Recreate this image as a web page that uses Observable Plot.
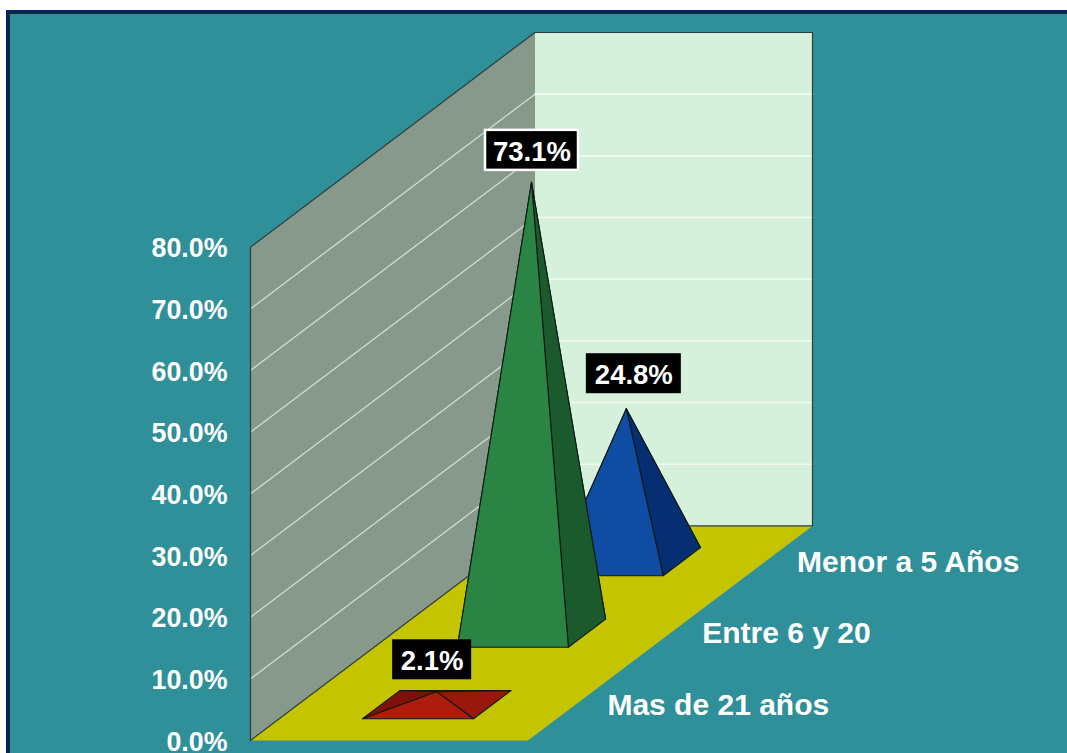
<!DOCTYPE html>
<html lang="es">
<head>
<meta charset="utf-8">
<script src="https://cdn.jsdelivr.net/npm/d3@7"></script>
<script src="https://cdn.jsdelivr.net/npm/@observablehq/plot@0.6"></script>
<style>
  html, body { margin: 0; padding: 0; background: #fff; overflow: hidden; width: 1067px; height: 753px; }
  #panel { position: absolute; left: 6px; top: 10px; right: -10px; bottom: -10px; background: #30909a;
           border: 2px solid #002366; box-shadow: inset 2px 2px 0 0 #0b2a38; }
  #chart { position: absolute; left: 0; top: 0; }
  #chart svg { display: block; }
</style>
</head>
<body>
<div id="panel"></div>
<div id="chart"></div>
<script>
// Data, front row to back row
const categories = ["Mas de 21 años", "Entre 6 y 20", "Menor a 5 Años"];
const values = [2.1, 73.1, 24.8];
const yTicks = [0, 10, 20, 30, 40, 50, 60, 70, 80];

// Colours per category
const frontColors = ["#ae1c0e", "#2a8544", "#0f4ca3"];
const sideColors = ["#9a170c", "#1a5a2c", "#062e72"];
const backColors = ["#7f1208", "#1a5a2c", "#062e72"];

// Oblique projection: depth d (0..1) shifts a point right and up in scale units
const depthX = 285 / 278, depthY = 34.8;
const px = (u, d) => u + depthX * d;
const py = (val, d) => val + depthY * d;
const yMax = 80;

// Each category occupies one third of the depth; pyramids fill 40% of the cell
const halfW = 0.2, halfD = 0.0655;
const center = i => (i + 0.5) / categories.length;

function poly(id, pts, fill, stroke) {
  return pts.map(([u, d, val]) => ({id, x: px(u, d), y: py(val, d), fill, stroke}));
}

// Chart box surfaces
const edge = "#2c3c3e";
const surfaces = [
  ...poly("floor", [[0,0,0],[1,0,0],[1,1,0],[0,1,0]], "#c4c400", "none"),
  ...poly("side", [[0,0,0],[0,1,0],[0,1,yMax],[0,0,yMax]], "#86998a", "none"),
  ...poly("back", [[0,1,0],[1,1,0],[1,1,yMax],[0,1,yMax]], "#d5f1db", "none")
];
const outlines = [
  {id: "a", pts: [[0,1,0],[0,0,0],[0,0,yMax],[0,1,yMax],[1,1,yMax],[1,1,0],[0,1,0]]}
].flatMap(o => o.pts.map(([u,d,val]) => ({id: o.id, x: px(u,d), y: py(val,d)})));

// Gridlines
const gridSide = yTicks.filter(t => t > 0 && t < yMax).flatMap(t => [
  {t, x: px(0,0), y: py(t,0)}, {t, x: px(0,1), y: py(t,1)}
]);
const gridBack = yTicks.filter(t => t > 0 && t < yMax).flatMap(t => [
  {t, x: px(0,1), y: py(t,1)}, {t, x: px(1,1), y: py(t,1)}
]);

// Pyramids: painted back row first
const faces = [];
[2, 1, 0].forEach(i => {
  const c = center(i), v = values[i];
  const FL = [0.5 - halfW, c - halfD, 0], FR = [0.5 + halfW, c - halfD, 0];
  const BL = [0.5 - halfW, c + halfD, 0], BR = [0.5 + halfW, c + halfD, 0];
  const A = [0.5, c, v];
  const line = "#101a14";
  faces.push(
    ...poly(`${i}b`, [BL, BR, A], backColors[i], line),
    ...poly(`${i}l`, [FL, BL, A], backColors[i], line),
    ...poly(`${i}r`, [FR, BR, A], sideColors[i], line),
    ...poly(`${i}f`, [FL, FR, A], frontColors[i], line)
  );
});

// Value labels, with box offsets from each apex in pixels
const labelBoxes = [
  {dx: -4.5, dy: -32, w: 79, stroke: "black", sw: 0},
  {dx: 0.5, dy: -32, w: 93, stroke: "white", sw: 2.5},
  {dx: 7.5, dy: -35, w: 95, stroke: "black", sw: 0}
];
const labelMarks = values.flatMap((v, i) => {
  const b = labelBoxes[i];
  const pos = [{x: px(0.5, center(i)), y: py(v, center(i)), text: v.toFixed(1) + "%"}];
  return [
    Plot.rect(pos, {x1: "x", x2: "x", y1: "y", y2: "y", dx: b.dx, dy: b.dy,
      insetLeft: -b.w / 2, insetRight: -b.w / 2, insetTop: -20, insetBottom: -20,
      fill: "black", stroke: b.stroke, strokeWidth: b.sw}),
    Plot.text(pos, {x: "x", y: "y", text: "text", dx: b.dx, dy: b.dy + 1.5, fill: "white", fontSize: 27.5, fontWeight: "bold"})
  ];
});

const catRows = categories.map((name, i) => ({name, x: px(1, center(i)), y: py(0, center(i))}));

const chart = Plot.plot({
  width: 1067, height: 753,
  marginLeft: 250, marginRight: 255, marginTop: 32, marginBottom: 13,
  style: {background: "transparent", fontFamily: "'Liberation Sans', Arial, sans-serif", fontWeight: "bold", overflow: "hidden"},
  x: {domain: [0, 1 + depthX], axis: null},
  y: {domain: [0, yMax + depthY], axis: null},
  marks: [
    Plot.line(surfaces, {x: "x", y: "y", z: "id", fill: "fill", stroke: "none", curve: "linear-closed"}),
    Plot.line(gridSide, {x: "x", y: "y", z: "t", stroke: "#d9dfd6", strokeWidth: 1.2}),
    Plot.line(gridBack, {x: "x", y: "y", z: "t", stroke: "#f1f9f2", strokeWidth: 1.6}),
    Plot.line(outlines, {x: "x", y: "y", z: "id", stroke: edge, strokeWidth: 1.2}),
    Plot.line(faces, {x: "x", y: "y", z: "id", fill: "fill", stroke: "stroke", strokeWidth: 1.1, curve: "linear-closed"}),
    Plot.axisY({
      ticks: yTicks, tickSize: 0, tickPadding: 23, label: null,
      tickFormat: d => d.toFixed(1) + "%", fontSize: 26.8, fill: "white", dy: 1.5
    }),
    Plot.text(catRows, {x: "x", y: "y", text: "name", textAnchor: "start", dx: 32, dy: 0.5, fill: "white", fontSize: 30, fontWeight: "bold"}),
    ...labelMarks
  ]
});
document.getElementById("chart").append(chart);
</script>
</body>
</html>
